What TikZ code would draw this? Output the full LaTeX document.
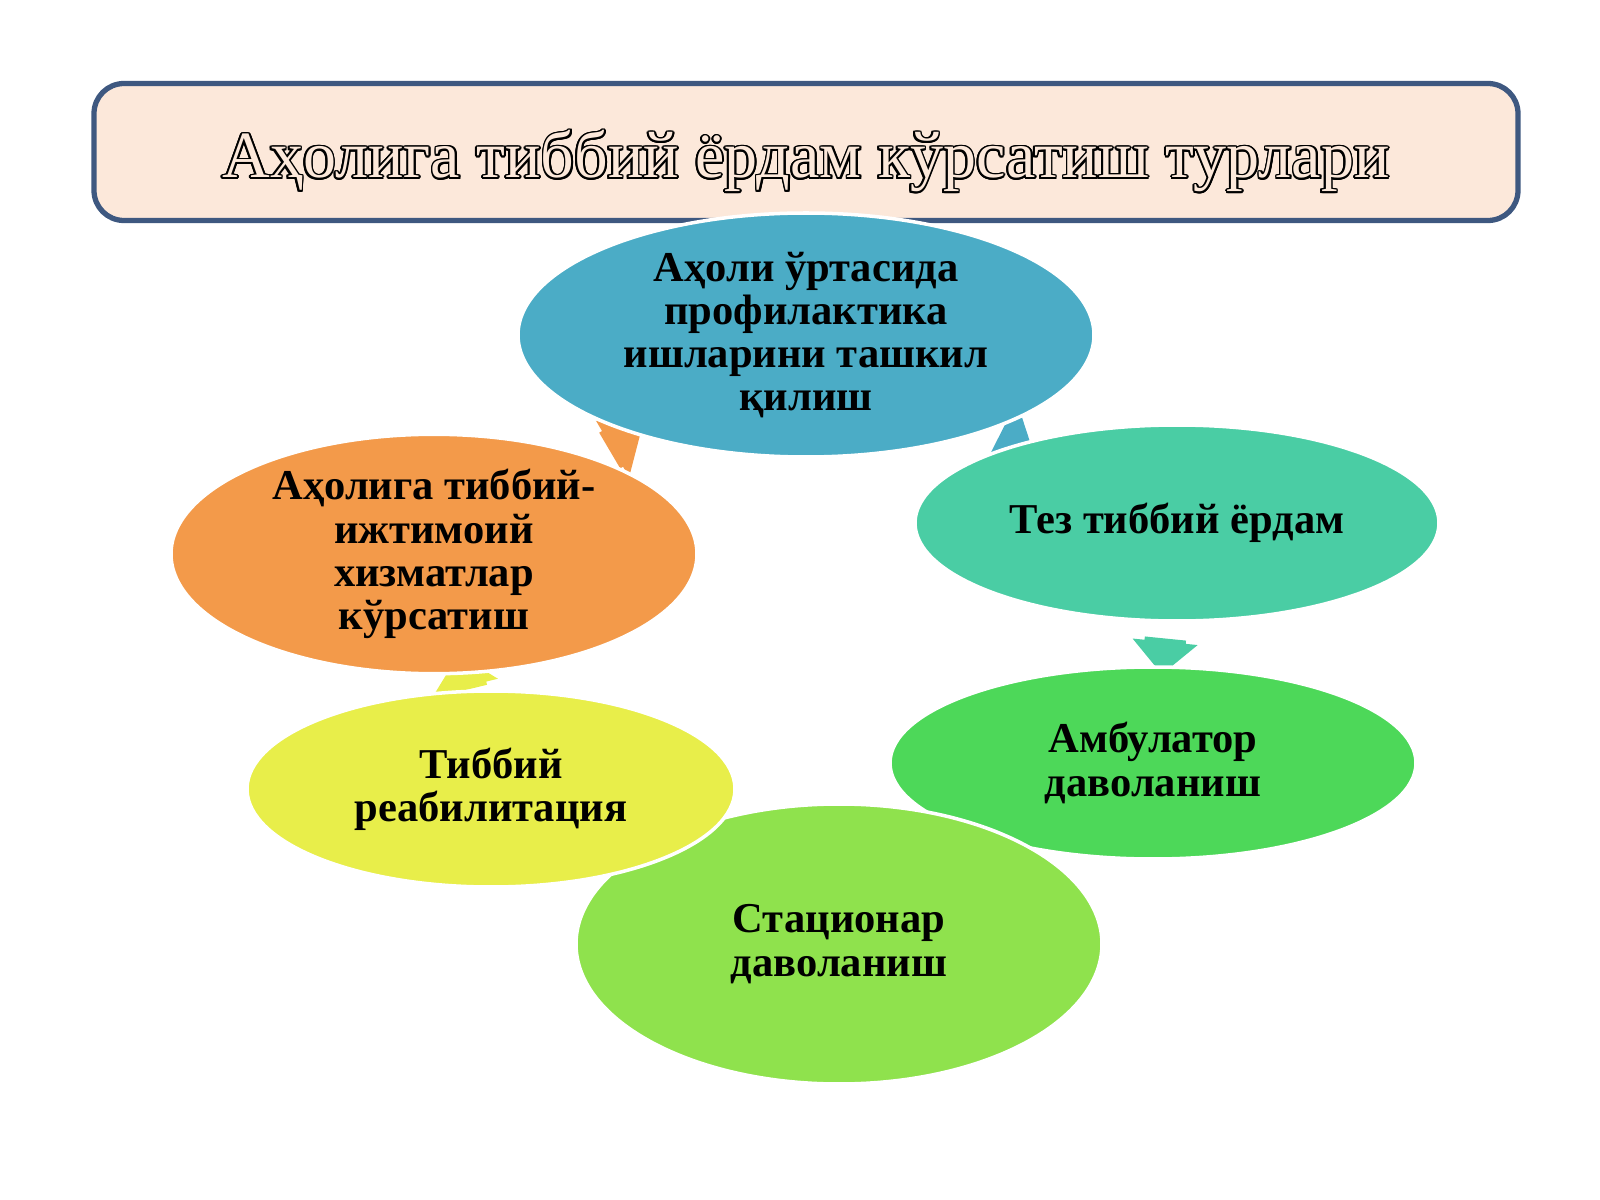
\documentclass[tikz,border=0pt]{standalone}
\usepackage{fontspec}
\setmainfont{Liberation Serif}
\usepackage{contour}
\usepackage{tikz}
\usetikzlibrary{shapes,arrows,backgrounds,positioning}
\usetikzlibrary{shapes.geometric,shapes.arrows}

\definecolor{titlefill}{RGB}{252,232,218}
\definecolor{titleline}{RGB}{62,88,128}
\definecolor{c_blue}{RGB}{75,172,198}
\definecolor{c_teal}{RGB}{74,205,164}
\definecolor{c_green}{RGB}{77,216,89}
\definecolor{c_lime}{RGB}{143,226,77}
\definecolor{c_yellow}{RGB}{232,238,74}
\definecolor{c_orange}{RGB}{243,154,74}

\contourlength{0.5pt}

\begin{document}
\begin{tikzpicture}[x=0.1mm, y=-0.1mm,
title_box/.style={draw=titleline, line width=1.5pt, fill=titlefill, rounded corners=3mm,
  minimum width=142.4mm, minimum height=13.7mm},
title_text/.style={anchor=base, inner sep=0pt, font=\fontsize{18.8}{22}\selectfont},
cyc_e/.style={ellipse, draw=white, line width=1pt, inner sep=0pt, align=center,
  font=\fontsize{12.1}{12.3}\selectfont\bfseries},
cyc_a/.style={single arrow, draw=none, minimum height=3.6mm, inner xsep=0.6mm, inner ysep=2mm,
  single arrow head extend=1.2mm, sloped, allow upside down}]

   \useasboundingbox (0,0) rectangle (1600,1200);

   % title
   \node[title_box] (title) at (806,152) {};
   \node[title_text] (title_t) at (806,178) {\contour{black}{\textcolor{titlefill}{Аҳолига тиббий ёрдам кўрсатиш турлари}}};

   % cycle of ellipses
   \node[cyc_e, fill=c_blue, minimum width=57.6mm, minimum height=24.4mm] (prof) at (806,335) {Аҳоли ўртасида\\профилактика\\ишларини ташкил\\қилиш};
   \node[cyc_e, fill=c_teal, minimum width=52.4mm, minimum height=19.6mm] (tez) at (1177,523) {Тез тиббий ёрдам};
   \node[cyc_e, fill=c_green, minimum width=52.6mm, minimum height=19.2mm] (amb) at (1153,763) {Амбулатор\\даволаниш};
   \node[cyc_e, fill=c_lime, minimum width=52.6mm, minimum height=28mm] (stat) at (839,944) {Стационар\\даволаниш};
   \node[cyc_e, fill=c_yellow, minimum width=48.8mm, minimum height=19.6mm] (reab) at (491,789) {Тиббий\\реабилитация};
   \node[cyc_e, fill=c_orange, minimum width=52.6mm, minimum height=23.4mm] (ijt) at (434,554) {Аҳолига тиббий-\\ижтимоий\\хизматлар\\кўрсатиш};

   % small arrows between them
   \begin{scope}[on background layer]
   \path (prof) -- (tez) node[cyc_a, fill=c_blue, pos=0.55] (a1) {};
   \path (tez) -- (amb) node[cyc_a, fill=c_teal, pos=0.55] (a2) {};
   \path (reab) -- (ijt) node[cyc_a, fill=c_yellow, pos=0.5] (a5) {};
   \path (ijt) -- (prof) node[cyc_a, fill=c_orange, pos=0.5] (a6) {};
   \end{scope}

\end{tikzpicture}
\end{document}
